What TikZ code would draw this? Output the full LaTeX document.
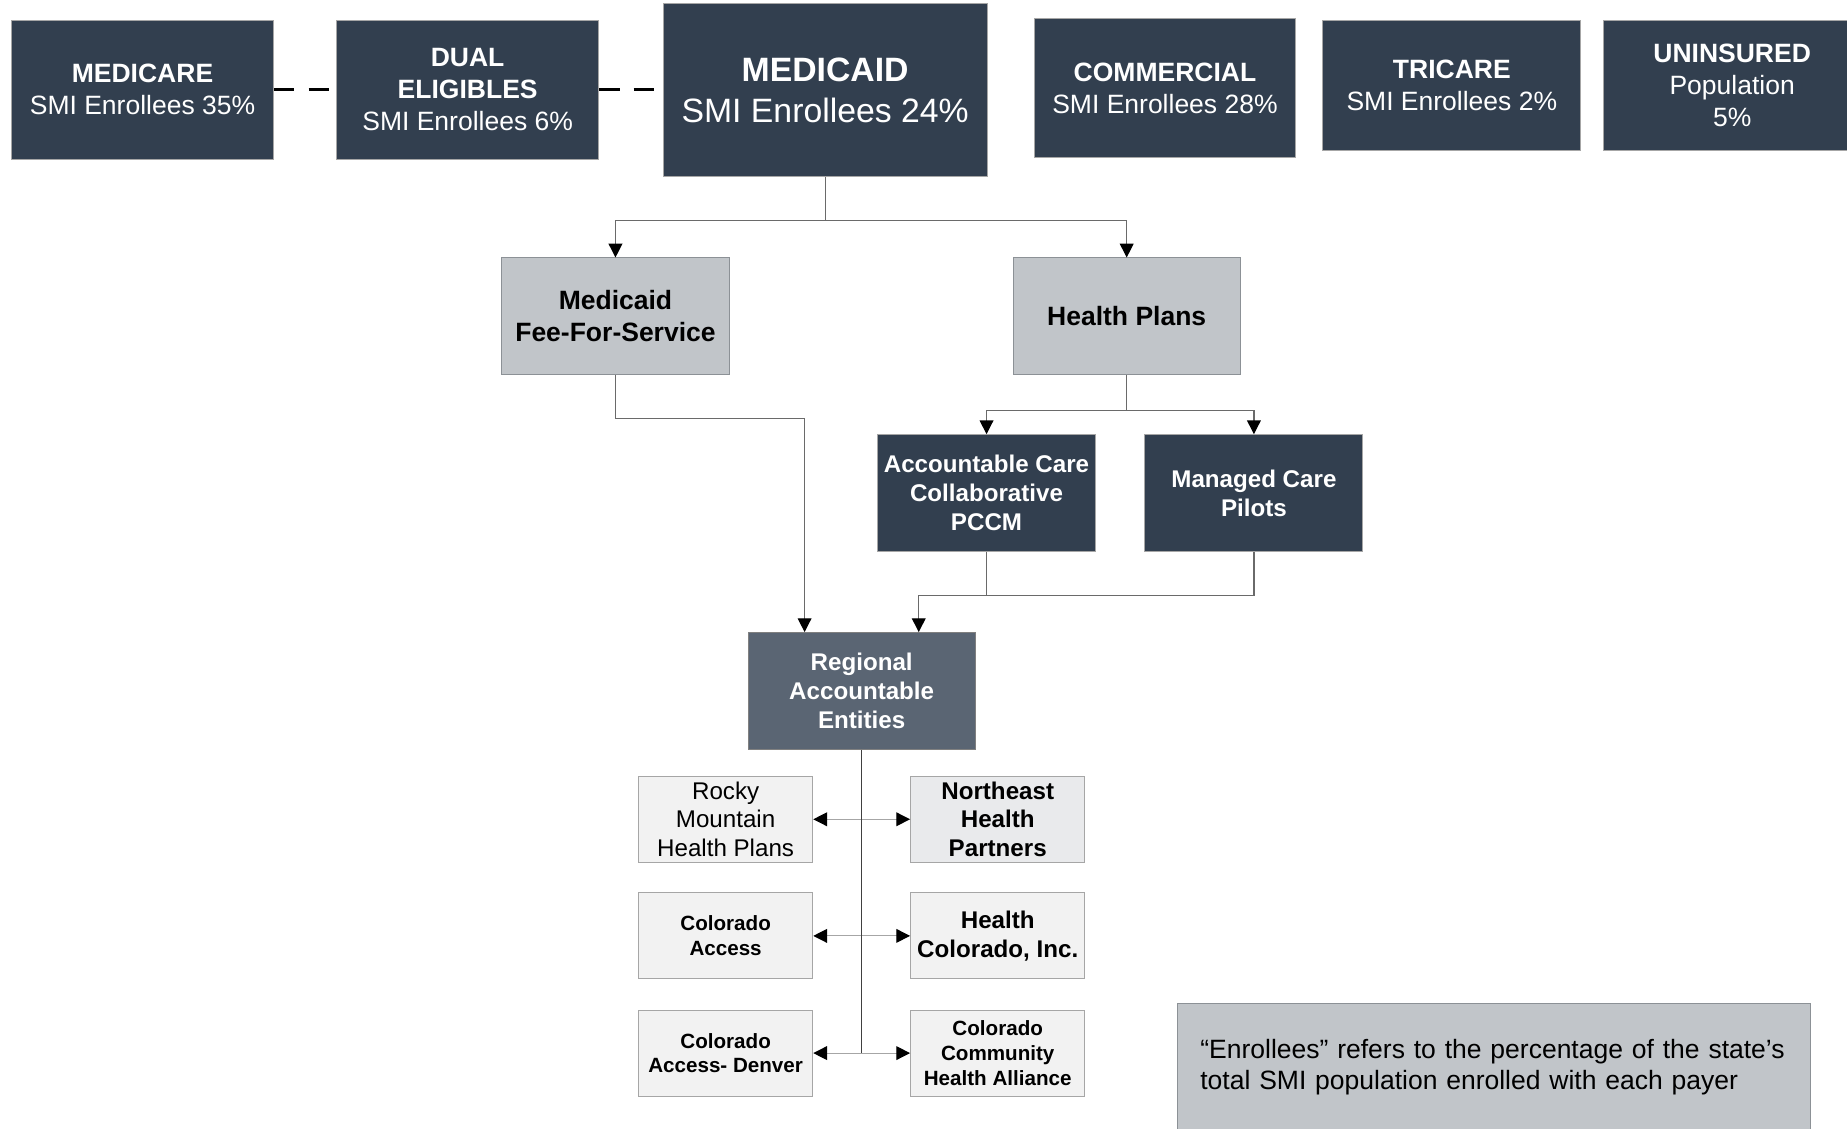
\documentclass[tikz,border=0pt]{standalone}
\usepackage{fontspec}
\setmainfont{Liberation Sans}
\usetikzlibrary{arrows.meta,calc}

\definecolor{navy}{HTML}{323F4F}
\definecolor{slate}{HTML}{5A6573}
\definecolor{silver}{HTML}{C1C5C9}
\definecolor{paper}{HTML}{F2F2F2}
\definecolor{paperdark}{HTML}{E9EAEC}
\definecolor{wire}{HTML}{6A6A6A}
\definecolor{trunk}{HTML}{404040}
\definecolor{lightwire}{HTML}{A6A6A6}
\definecolor{rim}{HTML}{8C9196}

\newcommand{\fsbig}{\fontsize{17.2}{21}\selectfont}
\newcommand{\fsmain}{\fontsize{13.5}{16.2}\selectfont}
\newcommand{\fsmid}{\fontsize{12.3}{14.7}\selectfont}
\newcommand{\fssmall}{\fontsize{10.5}{12.6}\selectfont}

\tikzset{
  box/.style={align=center, inner sep=0pt, line width=0.5pt},
  payer/.style={box, draw=gray!70, fill=navy, text=white,
    minimum width=133.2pt, minimum height=70.8pt, font=\fsmain},
  program/.style={box, draw=rim, fill=silver,
    minimum width=115.8pt, minimum height=59.4pt, font=\fsmain\bfseries},
  model/.style={box, draw=gray!70, fill=navy, text=white,
    minimum width=111pt, minimum height=59.4pt, font=\fsmid\bfseries},
  rae/.style={box, draw=gray, fill=slate, text=white,
    minimum width=115.8pt, minimum height=59.4pt, font=\fsmid\bfseries},
  entity/.style={box, draw=gray!70, fill=paper,
    minimum width=88.8pt, minimum height=43.8pt},
  note/.style={box, draw=rim, fill=silver, align=left, font=\fsmain,
    text width=299.4pt, inner xsep=11.4pt, minimum height=65.4pt},
  link/.style={draw=wire, line width=0.6pt},
  tip/.style={Triangle[length=7pt,width=7pt,color=black]},
  feed/.style={link, -{Triangle[length=7pt,width=7pt,color=black]}},
  twoway/.style={link, draw=lightwire, {Triangle[length=7pt,width=7pt,color=black]}-{Triangle[length=7pt,width=7pt,color=black]}},
  dashline/.style={draw=black, line width=1.8pt, dash pattern=on 10.5pt off 7.2pt}
}

\begin{document}
\begin{tikzpicture}[x=0.6pt, y=-0.6pt]
    \useasboundingbox (0, 0) rectangle (1568, 958);
    \clip (0, 0) rectangle (1568, 958);

    % payers
    \node[payer] (MCARE) at (121, 76) {\textbf{MEDICARE}\\SMI Enrollees 35\%};
    \node[payer] (DUAL) at (397, 76) {\textbf{DUAL}\\\textbf{ELIGIBLES}\\SMI Enrollees 6\%};
    \node[payer, minimum width=165pt, minimum height=88.2pt, font=\fsbig] (MCAID) at (700.5, 76.5) {\textbf{MEDICAID}\\SMI Enrollees 24\%};
    \node[payer] (COMM) at (989, 75) {\textbf{COMMERCIAL}\\SMI Enrollees 28\%};
    \node[payer, minimum width=131.4pt, minimum height=66.6pt] (TRI) at (1232.5, 72.5) {\textbf{TRICARE}\\SMI Enrollees 2\%};
    \node[payer, minimum width=131.4pt, minimum height=66.6pt] (UNINS) at (1470.5, 72.5) {\textbf{UNINSURED}\\Population\\5\%};

    \draw[dashline] (MCARE.east) -- (DUAL.west);
    \draw[dashline] (DUAL.east) -- (DUAL.east -| MCAID.west);

    % medicaid programs
    \node[program] (FFS) at (522.5, 268.5) {Medicaid\\Fee-For-Service};
    \node[program] (HP) at (956.5, 268.5) {Health Plans};
    \node[model] (ACC) at (837.5, 418.5) {Accountable Care\\Collaborative\\PCCM};
    \node[model] (MCP) at (1064.5, 418.5) {Managed Care\\Pilots};
    \node[rae] (RAE) at (731.5, 586.5) {Regional\\Accountable\\Entities};
    \coordinate (RAEinL) at ($(RAE.north west)!0.25!(RAE.north east)$);
    \coordinate (RAEinR) at ($(RAE.north west)!0.75!(RAE.north east)$);

    \draw[feed] (MCAID.south) -- ++(0, 37) -| (FFS.north);
    \draw[feed] (MCAID.south) -- ++(0, 37) -| (HP.north);
    \draw[feed] (HP.south) -- ++(0, 30) -| (ACC.north);
    \draw[feed] (HP.south) -- ++(0, 30) -| (MCP.north);
    \draw[feed] (FFS.south) -- ++(0, 37) -| (RAEinL);
    \draw[link] (ACC.south) -- ++(0, 37);
    \draw[feed] (MCP.south) -- ++(0, 37) -| (RAEinR);

    % regional entities
    \node[entity, font=\fsmid] (RMHP) at (616, 695.5) {Rocky\\Mountain\\Health Plans};
    \node[entity, fill=paperdark, font=\fsmid\bfseries] (NHP) at (847, 695.5) {Northeast\\Health\\Partners};
    \node[entity, font=\fssmall\bfseries] (CA) at (616, 794.5) {Colorado\\Access};
    \node[entity, font=\fsmid\bfseries] (HCI) at (847, 794.5) {Health\\Colorado, Inc.};
    \node[entity, font=\fssmall\bfseries] (CAD) at (616, 894) {Colorado\\Access- Denver};
    \node[entity, font=\fssmall\bfseries] (CCHA) at (847, 894) {Colorado\\Community\\Health Alliance};

    \draw[twoway] (RMHP) -- (NHP);
    \draw[twoway] (CA) -- (HCI);
    \draw[twoway] (CAD) -- (CCHA);
    \draw[link, draw=trunk] (RAE.south) -- (RAE.south |- CAD.east);

    \node[note] (NOTE) at (1268.5, 906) {“Enrollees” refers to the percentage of the state’s\\total SMI population enrolled with each payer};
\end{tikzpicture}
\end{document}
